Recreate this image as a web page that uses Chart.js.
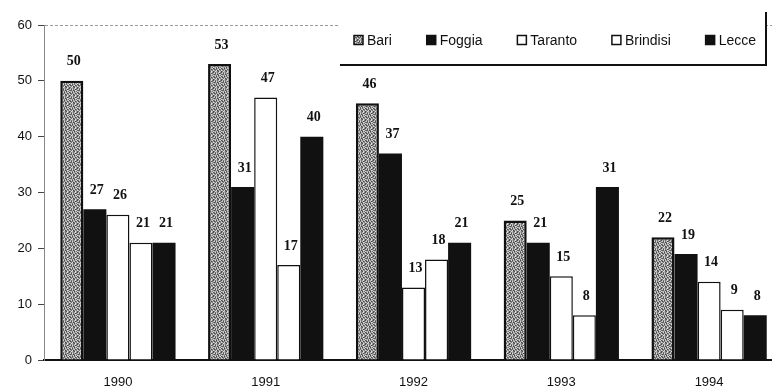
<!DOCTYPE html>
<html>
<head>
<meta charset="utf-8">
<script src="https://cdn.jsdelivr.net/npm/chart.js@4.4.0/dist/chart.umd.min.js"></script>
<style>
    body { margin: 0; background: #fff; overflow: hidden; }
    #wrap { width: 783px; height: 390px; position: relative; }
</style>
</head>
<body>
<div id="wrap"><canvas id="chart"></canvas></div>
<script>
const YEARS = ['1990', '1991', '1992', '1993', '1994'];
const BARI = [50, 53, 46, 25, 22];
const FOGGIA = [27, 31, 37, 21, 19];
const TARANTO = [26, 47, 13, 15, 14];
const BRINDISI = [21, 17, 18, 8, 9];
const LECCE = [21, 40, 21, 31, 8];
const Y_TICKS = [0, 10, 20, 30, 40, 50, 60];

// speckled grey fill used for Bari
function makeStipple() {
    const rows = [
        'abacbdab',
        'cbadbacd',
        'adbcabdb',
        'bcdabcaa',
        'dabacdbc',
        'bacdbadb',
        'cdbabcab',
        'abdcadbc',
    ];
    const shades = { a: '#b0b0b0', b: '#777', c: '#dcdcdc', d: '#4a4a4a' };
    const c = document.createElement('canvas');
    c.width = 8; c.height = 8;
    const g = c.getContext('2d');
    rows.forEach((row, y) => {
        [...row].forEach((ch, x) => {
            g.fillStyle = shades[ch];
            g.fillRect(x, y, 1, 1);
        });
    });
    return g.createPattern(c, 'repeat');
}

const stipple = makeStipple();

const valueLabels = {
    id: 'valueLabels',
    afterDatasetsDraw(chart) {
        const ctx = chart.ctx;
        ctx.save();
        ctx.font = 'bold 14px "Liberation Serif", "Times New Roman", serif';
        ctx.fillStyle = '#111';
        ctx.textAlign = 'center';
        ctx.textBaseline = 'middle';
        chart.data.datasets.forEach((ds, i) => {
            chart.getDatasetMeta(i).data.forEach((bar, j) => {
                ctx.fillText(String(ds.data[j]), bar.x + 2, bar.y - 19);
            });
        });
        ctx.restore();
    }
};

const boxLegend = {
    id: 'boxLegend',
    afterDraw(chart) {
        const ctx = chart.ctx;
        const left = 340, right = 766, top = 12, bottom = 65;
        ctx.save();
        ctx.fillStyle = '#fff';
        ctx.fillRect(left, top, right - left, bottom - top);
        ctx.strokeStyle = '#111';
        ctx.lineWidth = 2;
        ctx.beginPath();
        ctx.moveTo(left, bottom);
        ctx.lineTo(right, bottom);
        ctx.lineTo(right, top);
        ctx.stroke();

        ctx.font = '14px "Liberation Sans", Arial, sans-serif';
        ctx.textBaseline = 'middle';
        const sq = 9, gap = 4;
        const items = chart.data.datasets.map(ds => ({
            ds, w: sq + gap + ctx.measureText(ds.label).width
        }));
        const total = items.reduce((s, it) => s + it.w, 0);
        const x0 = left + 14, x1 = right - 10;
        const space = (x1 - x0 - total) / (items.length - 1);
        let x = x0;
        const cy = 40;
        items.forEach(it => {
            ctx.fillStyle = it.ds.backgroundColor;
            ctx.fillRect(x, cy - sq / 2, sq, sq);
            ctx.lineWidth = 1.5;
            ctx.strokeStyle = '#111';
            ctx.strokeRect(x, cy - sq / 2, sq, sq);
            ctx.fillStyle = '#111';
            ctx.fillText(it.ds.label, x + sq + gap, cy + 1);
            x += it.w + space;
        });
        ctx.restore();
    }
};

function series(label, data, fill, border) {
    return {
        label,
        data,
        backgroundColor: fill,
        borderColor: '#111',
        borderWidth: border,
        borderSkipped: 'bottom',
    };
}

new Chart(document.getElementById('chart'), {
    type: 'bar',
    data: {
        labels: YEARS,
        datasets: [
            series('Bari', BARI, stipple, 2.5),
            series('Foggia', FOGGIA, '#111', 0),
            series('Taranto', TARANTO, '#fff', 1.5),
            series('Brindisi', BRINDISI, '#fff', 1.5),
            series('Lecce', LECCE, '#111', 0),
        ]
    },
    options: {
        responsive: true,
        maintainAspectRatio: false,
        animation: false,
        layout: { padding: { top: 25, right: 0, left: 0, bottom: 0 } },
        datasets: {
            bar: { categoryPercentage: 0.78, barPercentage: 1.0 }
        },
        plugins: {
            legend: { display: false },
            tooltip: { enabled: false },
        },
        scales: {
            x: {
                grid: { display: false, drawTicks: false },
                border: { display: true, color: '#111', width: 2 },
                ticks: {
                    color: '#111',
                    font: { family: '"Liberation Sans", Arial, sans-serif', size: 13 },
                    padding: 15,
                },
                afterFit(scale) { scale.height = 30; },
            },
            y: {
                min: 0,
                max: 60,
                afterBuildTicks(scale) {
                    scale.ticks = Y_TICKS.map(v => ({ value: v }));
                },
                grid: {
                    color: ctx => ctx.tick && ctx.tick.value === 60 ? '#999' : 'rgba(0,0,0,0)',
                    borderDash: [1, 3],
                    tickColor: '#444',
                    tickLength: 6,
                    lineWidth: 1,
                },
                border: { display: true, color: '#888', dash: [3, 2], width: 1 },
                ticks: {
                    color: '#111',
                    font: { family: '"Liberation Sans", Arial, sans-serif', size: 13 },
                    padding: 6,
                },
                afterFit(scale) { scale.width = 44; },
            }
        }
    },
    plugins: [valueLabels, boxLegend]
});
</script>
</body>
</html>
